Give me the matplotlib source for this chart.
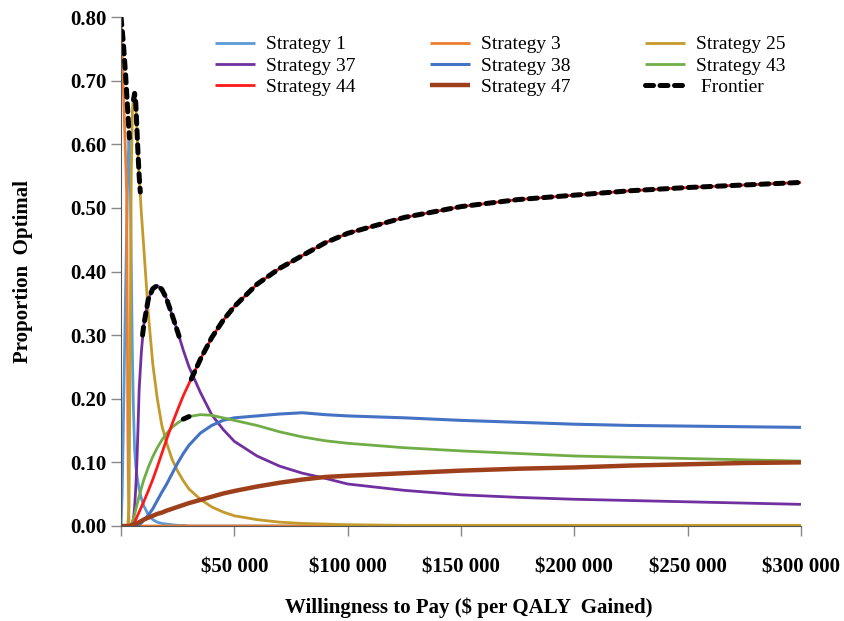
import matplotlib
matplotlib.use('Agg')
import matplotlib.pyplot as plt
import numpy as np
from matplotlib.ticker import FuncFormatter

plt.rcParams['font.family'] = ['Liberation Serif', 'DejaVu Serif']

# willingness to pay grid ($ per QALY)
wtp = [0, 500, 1000, 1500, 2000, 2500, 3000, 3500, 4000, 4500, 5000, 5500, 6000, 6500,
       7000, 7500, 8000, 9000, 10000, 12000, 14000, 16000, 18000, 20000, 22500, 25000,
       27500, 30000, 35000, 40000, 45000, 50000, 60000, 70000, 80000, 90000, 100000,
       125000, 150000, 175000, 200000, 225000, 250000, 275000, 300000]

s1 = [0, 0.05, 0.15, 0.26, 0.37, 0.47, 0.56, 0.61, 0.57, 0.42, 0.27, 0.18, 0.12, 0.095,
      0.08, 0.068, 0.058, 0.043, 0.032, 0.018, 0.010, 0.006, 0.004, 0.003, 0.002, 0.001,
      0.001, 0, 0, 0, 0, 0, 0, 0, 0, 0, 0,
      0, 0, 0, 0, 0, 0, 0, 0]
s3 = [0.80, 0.745, 0.69, 0.635, 0.58, 0.52, 0.15, 0, 0, 0, 0, 0, 0, 0,
      0, 0, 0, 0, 0, 0, 0, 0, 0, 0, 0, 0,
      0, 0, 0, 0, 0, 0, 0, 0, 0, 0, 0,
      0, 0, 0, 0, 0, 0, 0, 0]
s25 = [0, 0, 0, 0, 0, 0, 0, 0.03, 0.25, 0.55, 0.65, 0.675, 0.68, 0.665,
       0.625, 0.585, 0.55, 0.49, 0.44, 0.335, 0.255, 0.2, 0.158, 0.132, 0.105, 0.086,
       0.071, 0.058, 0.042, 0.03, 0.022, 0.016, 0.01, 0.006, 0.004, 0.003, 0.002,
       0.001, 0.001, 0.001, 0.001, 0.001, 0.001, 0.001, 0.001]
s37 = [0, 0, 0, 0, 0, 0, 0, 0, 0, 0, 0.003, 0.012, 0.03, 0.06,
       0.1, 0.155, 0.215, 0.275, 0.315, 0.356, 0.373, 0.378, 0.372, 0.358, 0.332, 0.305,
       0.276, 0.25, 0.21, 0.175, 0.152, 0.133, 0.11, 0.094, 0.083, 0.075, 0.066,
       0.056, 0.049, 0.045, 0.042, 0.04, 0.038, 0.036, 0.034]
s38 = [0, 0, 0, 0, 0, 0, 0, 0, 0, 0, 0, 0, 0, 0,
       0, 0.001, 0.002, 0.005, 0.009, 0.017, 0.027, 0.04, 0.053, 0.065, 0.082, 0.099,
       0.114, 0.127, 0.146, 0.158, 0.166, 0.17, 0.173, 0.176, 0.178, 0.175, 0.173,
       0.17, 0.166, 0.163, 0.16, 0.158, 0.157, 0.156, 0.155]
s43 = [0, 0, 0, 0, 0, 0, 0, 0, 0, 0.002, 0.006, 0.012, 0.018, 0.026,
       0.033, 0.04, 0.047, 0.06, 0.072, 0.092, 0.109, 0.123, 0.135, 0.145, 0.155, 0.162,
       0.168, 0.172, 0.175, 0.174, 0.17, 0.166, 0.158, 0.148, 0.14, 0.134, 0.13,
       0.123, 0.118, 0.114, 0.11, 0.108, 0.106, 0.104, 0.102]
s44 = [0, 0, 0, 0, 0, 0, 0, 0, 0, 0, 0, 0.003, 0.006, 0.01,
       0.014, 0.018, 0.022, 0.03, 0.038, 0.055, 0.073, 0.093, 0.114, 0.135, 0.16, 0.183,
       0.205, 0.224, 0.262, 0.296, 0.323, 0.345, 0.38, 0.405, 0.425, 0.445, 0.46,
       0.485, 0.502, 0.513, 0.52, 0.527, 0.532, 0.536, 0.54]
s47 = [0, 0, 0, 0, 0, 0, 0, 0, 0, 0.001, 0.002, 0.002, 0.003, 0.003,
       0.004, 0.005, 0.006, 0.008, 0.01, 0.013, 0.016, 0.019, 0.021, 0.024, 0.027, 0.03,
       0.033, 0.036, 0.041, 0.046, 0.051, 0.055, 0.062, 0.068, 0.073, 0.077, 0.079,
       0.083, 0.087, 0.09, 0.092, 0.095, 0.097, 0.099, 0.10]

# frontier, with breaks (None) where the optimal strategy changes
frontier_wtp = [0, 1000, 2000, 3000, 3700, None,
                5500, 6000, 6500, 7000, 7500, 8000, 8500, None,
                9500, 10000, 12000, 14000, 16000, 18000, 20000, 22500, 25000, 25700, None,
                27500, 30000, None,
                31000, 35000, 40000, 45000, 50000, 60000, 70000, 80000, 90000, 100000,
                125000, 150000, 175000, 200000, 225000, 250000, 275000, 300000]
frontier_y = [0.80, 0.76, 0.71, 0.65, 0.61, None,
              0.67, 0.68, 0.665, 0.625, 0.585, 0.55, 0.525, None,
              0.30, 0.315, 0.356, 0.373, 0.378, 0.372, 0.358, 0.332, 0.305, 0.297, None,
              0.168, 0.172, None,
              0.231, 0.262, 0.296, 0.323, 0.345, 0.38, 0.405, 0.425, 0.445, 0.46,
              0.485, 0.502, 0.513, 0.52, 0.527, 0.532, 0.536, 0.54]

names = ['Strategy 1', 'Strategy 3', 'Strategy 25', 'Strategy 37', 'Strategy 38',
         'Strategy 43', 'Strategy 44', 'Strategy 47']
series = [s1, s3, s25, s37, s38, s43, s44, s47]
colors = ['#5B9BD5', '#ED7D31', '#C49A2C', '#7030A0', '#4472C4', '#70AD47', '#FF1A1A', '#9E3F1C']
widths = [2, 2, 2, 2, 2.2, 2, 2, 3.2]

fig = plt.figure(figsize=(8.44, 6.21), dpi=100)
ax = fig.add_axes([0.1434, 0.153, 0.8056, 0.8196])

lines = {}
for name, y, c, w in zip(names, series, colors, widths):
    lines[name], = ax.plot(wtp, y, color=c, lw=w, label=name, solid_capstyle='butt')

fx = np.array([np.nan if v is None else v for v in frontier_wtp], dtype=float)
fy = np.array([np.nan if v is None else v for v in frontier_y], dtype=float)
lines['Frontier'], = ax.plot(fx, fy, color='black', lw=3.6, ls=(0, (1.6, 1.3)),
                             dash_capstyle='round', label='Frontier')

ax.set_xlim(0, 300000)
ax.set_ylim(0, 0.80)
ax.set_xticks(np.arange(0, 300001, 50000))
ax.set_yticks(np.arange(0, 0.81, 0.1))
ax.xaxis.set_major_formatter(FuncFormatter(
    lambda v, p: '' if v == 0 else '$' + format(int(v), ',').replace(',', ' ')))
ax.yaxis.set_major_formatter(FuncFormatter(lambda v, p: f'{v:.2f}'))

for s in ['top', 'right']:
    ax.spines[s].set_visible(False)
for s in ['left', 'bottom']:
    ax.spines[s].set_color('#555555')
ax.tick_params(axis='both', direction='out', length=7, color='#888888', width=1,
               labelsize=15)
ax.tick_params(axis='x', pad=16)
for lab in ax.get_xticklabels() + ax.get_yticklabels():
    lab.set_fontweight('bold')

ax.set_xlabel('Willingness to Pay ($ per QALY  Gained)', fontsize=15, fontweight='bold')
ax.set_ylabel('Proportion  Optimal', fontsize=15, fontweight='bold')
ax.xaxis.set_label_coords(0.512, -0.14)
ax.yaxis.set_label_coords(-0.13, 0.50)

order = ['Strategy 1', 'Strategy 37', 'Strategy 44',
         'Strategy 3', 'Strategy 38', 'Strategy 47',
         'Strategy 25', 'Strategy 43', 'Frontier']
ax.legend([lines[k] for k in order], [k if k != 'Frontier' else ' Frontier' for k in order],
          ncol=3, loc='upper left', bbox_to_anchor=(0.138, 0.963), frameon=False,
          fontsize=14, handlelength=2.05, handletextpad=0.6, columnspacing=3.8,
          labelspacing=0.18, borderpad=0, borderaxespad=0)

fig.savefig('out.png', dpi=100)
